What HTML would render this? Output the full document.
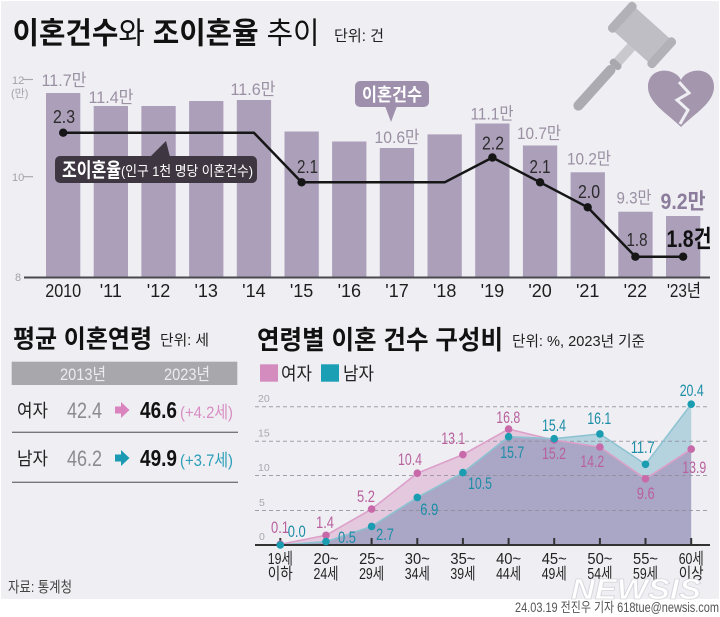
<!DOCTYPE html>
<html>
<head>
<meta charset="utf-8">
<style>
  html,body{margin:0;padding:0;background:#fff;}
  svg{display:block;}
  text{font-family:"Liberation Sans","Noto Sans CJK KR",sans-serif;}
</style>
</head>
<body>
<svg width="720" height="617" viewBox="0 0 720 617" xmlns="http://www.w3.org/2000/svg">
  <defs>
    <clipPath id="fclip">
      <polygon points="280.3,545 280.3,544.3 326,535.3 371.6,509.1 417.3,473.2 462.9,454.6 508.6,429.1 554.2,440.1 599.9,447 645.5,478.8 691.2,449.1 691.2,545"/>
    </clipPath>
  </defs>
  <rect width="720" height="617" fill="#ffffff"/>
  <rect x="1" y="1" width="718" height="598" fill="#efeef3"/>

  <!-- Title -->
  <text x="12.5" y="43.5" font-size="30" fill="#111" textLength="307" lengthAdjust="spacingAndGlyphs"><tspan font-weight="700">이혼건수</tspan><tspan font-weight="400">와 </tspan><tspan font-weight="700">조이혼율</tspan><tspan font-weight="400"> 추이</tspan></text>
  <text x="334" y="41" font-size="15.5" fill="#222" textLength="50" lengthAdjust="spacingAndGlyphs">단위: 건</text>

  <!-- Gavel -->
  <g transform="translate(642,35) rotate(42)">
    <rect x="-5" y="14" width="10" height="24" fill="#c9c8cd"/>
    <rect x="-6.5" y="36" width="13" height="7" rx="3" fill="#a9a8ae"/>
    <rect x="-5" y="42" width="10" height="58" rx="5" fill="#acabb1"/>
    <rect x="-23" y="-16" width="46" height="32" fill="#bfbec4"/>
    <rect x="-31" y="-19" width="9" height="38" rx="4" fill="#b2b1b7"/>
    <rect x="22" y="-19" width="9" height="38" rx="4" fill="#b2b1b7"/>
  </g>
  <!-- Broken heart -->
  <path d="M681,80 C675,67 648,66 648,87 C648,103 668,114 681,127 C694,114 714,103 714,87 C714,66 687,67 681,80 Z" fill="#a396ad"/>
  <polyline points="679,82 689,93 677,100 688,110 680,124" fill="none" stroke="#efeef3" stroke-width="3" stroke-linejoin="miter"/>

  <!-- Top chart y axis labels -->
  <text x="12" y="84" font-size="11" fill="#a3a3a8">12</text>
  <line x1="23" y1="79.5" x2="33" y2="79.5" stroke="#a8a8ad" stroke-width="1.2"/>
  <text x="11" y="97" font-size="11" fill="#a3a3a8">(만)</text>
  <text x="12" y="181" font-size="11" fill="#a3a3a8">10</text>
  <line x1="23" y1="176.7" x2="33" y2="176.7" stroke="#a8a8ad" stroke-width="1.2"/>
  <text x="15" y="281" font-size="11" fill="#a3a3a8">8</text>

  <!-- Bars -->
  <g fill="#ab9fba">
    <rect x="46.0" y="93" width="34.3" height="184.5"/>
    <rect x="93.7" y="106" width="34.3" height="171.5"/>
    <rect x="141.4" y="106" width="34.3" height="171.5"/>
    <rect x="189.1" y="101" width="34.3" height="176.5"/>
    <rect x="236.8" y="100" width="34.3" height="177.5"/>
    <rect x="284.5" y="131.5" width="34.3" height="146"/>
    <rect x="332.1" y="141.5" width="34.3" height="136"/>
    <rect x="379.8" y="148" width="34.3" height="129.5"/>
    <rect x="427.5" y="134.4" width="34.3" height="143.1"/>
    <rect x="475.2" y="123.5" width="34.3" height="154"/>
    <rect x="522.9" y="145.5" width="34.3" height="132"/>
    <rect x="570.6" y="172.3" width="34.3" height="105.2"/>
    <rect x="618.3" y="211.7" width="34.3" height="65.8"/>
    <rect x="666.0" y="216" width="34.3" height="61.5"/>
  </g>
  <line x1="24" y1="277.5" x2="710" y2="277.5" stroke="#4a4a4e" stroke-width="2"/>

  <!-- Value labels (counts) -->
  <g font-size="17" fill="#9a90a3" text-anchor="middle" lengthAdjust="spacingAndGlyphs">
    <text x="64" y="86" textLength="45" lengthAdjust="spacingAndGlyphs">11.7만</text>
    <text x="111" y="103" textLength="45" lengthAdjust="spacingAndGlyphs">11.4만</text>
    <text x="253" y="95" textLength="45" lengthAdjust="spacingAndGlyphs">11.6만</text>
    <text x="397" y="143" textLength="45" lengthAdjust="spacingAndGlyphs">10.6만</text>
    <text x="492" y="119.5" textLength="43" lengthAdjust="spacingAndGlyphs">11.1만</text>
    <text x="539" y="139" textLength="44" lengthAdjust="spacingAndGlyphs">10.7만</text>
    <text x="589" y="164.5" textLength="44" lengthAdjust="spacingAndGlyphs">10.2만</text>
    <text x="634" y="203.5" textLength="35" lengthAdjust="spacingAndGlyphs">9.3만</text>
  </g>
  <text x="683" y="209" font-size="22" font-weight="700" fill="#8b7d9b" text-anchor="middle" textLength="45" lengthAdjust="spacingAndGlyphs">9.2만</text>

  <!-- Rate line -->
  <polyline points="63.2,132.7 253.9,132.7 301.6,182.3 444.7,182.3 492.4,157.5 540.1,182.3 587.7,207.3 635.4,256.7 683.1,256.7" fill="none" stroke="#161616" stroke-width="2.5" stroke-linejoin="round"/>
  <g fill="#161616">
    <circle cx="63.2" cy="132.7" r="4.2"/>
    <circle cx="301.6" cy="182.3" r="4.2"/>
    <circle cx="492.4" cy="157.5" r="4.2"/>
    <circle cx="540.1" cy="182.3" r="4.2"/>
    <circle cx="587.7" cy="207.3" r="4.2"/>
    <circle cx="635.4" cy="256.7" r="4.2"/>
    <circle cx="683.1" cy="256.7" r="4.2"/>
  </g>
  <g font-size="18" fill="#2b2b2b" text-anchor="middle">
    <text x="64" y="123" textLength="22" lengthAdjust="spacingAndGlyphs">2.3</text>
    <text x="307.5" y="173" textLength="21" lengthAdjust="spacingAndGlyphs">2.1</text>
    <text x="493" y="149.5" textLength="22" lengthAdjust="spacingAndGlyphs">2.2</text>
    <text x="540" y="173" textLength="21" lengthAdjust="spacingAndGlyphs">2.1</text>
    <text x="589" y="198" textLength="22" lengthAdjust="spacingAndGlyphs">2.0</text>
    <text x="637" y="246" textLength="21" lengthAdjust="spacingAndGlyphs">1.8</text>
  </g>
  <text x="689" y="247" font-size="24" font-weight="700" fill="#111" text-anchor="middle" textLength="45" lengthAdjust="spacingAndGlyphs">1.8건</text>

  <!-- Annotation boxes -->
  <polygon points="150,157 170,157 166,141" fill="#3e3641"/>
  <rect x="55" y="156" width="202" height="27" rx="5" fill="#3e3641"/>
  <text x="62" y="177" font-size="20" font-weight="700" fill="#ffffff" textLength="59" lengthAdjust="spacingAndGlyphs">조이혼율</text>
  <text x="121" y="176" font-size="14" fill="#ffffff" textLength="132" lengthAdjust="spacingAndGlyphs">(인구 1천 명당 이혼건수)</text>

  <polygon points="385,106 397,106 391,122" fill="#9e90ac"/>
  <rect x="355" y="81" width="74" height="26" rx="5" fill="#9e90ac"/>
  <text x="392" y="101" font-size="18" font-weight="700" fill="#ffffff" text-anchor="middle" textLength="60" lengthAdjust="spacingAndGlyphs">이혼건수</text>

  <!-- Year labels -->
  <g font-size="18" fill="#1e1e1e" text-anchor="middle">
    <text x="63.2" y="297" textLength="36" lengthAdjust="spacingAndGlyphs">2010</text>
    <text x="110.8" y="297">'11</text>
    <text x="158.5" y="297">'12</text>
    <text x="206.2" y="297">'13</text>
    <text x="253.9" y="297">'14</text>
    <text x="301.6" y="297">'15</text>
    <text x="349.3" y="297">'16</text>
    <text x="397" y="297">'17</text>
    <text x="444.7" y="297">'18</text>
    <text x="492.4" y="297">'19</text>
    <text x="540.1" y="297">'20</text>
    <text x="587.7" y="297">'21</text>
    <text x="635.4" y="297">'22</text>
    <text x="684" y="297" textLength="34" lengthAdjust="spacingAndGlyphs">'23년</text>
  </g>

  <!-- Bottom-left: average age -->
  <text x="13" y="347.5" font-size="25" font-weight="700" fill="#111" textLength="139" lengthAdjust="spacingAndGlyphs">평균 이혼연령</text>
  <text x="160" y="345" font-size="15" fill="#222" textLength="49" lengthAdjust="spacingAndGlyphs">단위: 세</text>
  <rect x="11.7" y="361.7" width="225.6" height="23.3" fill="#a8a7ac"/>
  <text x="83" y="380" font-size="17" fill="#ececef" text-anchor="middle" textLength="46" lengthAdjust="spacingAndGlyphs">2013년</text>
  <text x="187" y="380" font-size="17" fill="#ececef" text-anchor="middle" textLength="46" lengthAdjust="spacingAndGlyphs">2023년</text>

  <text x="17" y="417" font-size="18" fill="#222" textLength="31" lengthAdjust="spacingAndGlyphs">여자</text>
  <text x="67" y="418" font-size="22" fill="#8b8a8f" textLength="35" lengthAdjust="spacingAndGlyphs">42.4</text>
  <polygon points="115,406.5 121,406.5 121,402 129.5,410 121,418 121,413.5 115,413.5" fill="#d984be"/>
  <text x="140" y="418" font-size="23" font-weight="700" fill="#111" textLength="37" lengthAdjust="spacingAndGlyphs">46.6</text>
  <text x="180" y="418" font-size="17" fill="#d88ec2" textLength="53" lengthAdjust="spacingAndGlyphs">(+4.2세)</text>
  <line x1="12" y1="432.3" x2="238" y2="432.3" stroke="#77767b" stroke-width="1.3"/>

  <text x="17" y="465" font-size="18" fill="#222" textLength="31" lengthAdjust="spacingAndGlyphs">남자</text>
  <text x="67" y="466" font-size="22" fill="#8b8a8f" textLength="35" lengthAdjust="spacingAndGlyphs">46.2</text>
  <polygon points="115,454.5 121,454.5 121,450 129.5,458 121,466 121,461.5 115,461.5" fill="#1a9bb3"/>
  <text x="140" y="466" font-size="23" font-weight="700" fill="#111" textLength="37" lengthAdjust="spacingAndGlyphs">49.9</text>
  <text x="180" y="466" font-size="17" fill="#2a9fb8" textLength="53" lengthAdjust="spacingAndGlyphs">(+3.7세)</text>
  <line x1="12" y1="482.3" x2="238" y2="482.3" stroke="#77767b" stroke-width="1.3"/>

  <text x="8" y="592" font-size="15" fill="#444" textLength="64" lengthAdjust="spacingAndGlyphs">자료: 통계청</text>

  <!-- Bottom-right: age distribution -->
  <text x="257" y="349" font-size="26" font-weight="700" fill="#111" textLength="246" lengthAdjust="spacingAndGlyphs">연령별 이혼 건수 구성비</text>
  <text x="512" y="346" font-size="15" fill="#222" textLength="133" lengthAdjust="spacingAndGlyphs">단위: %, 2023년 기준</text>

  <rect x="260" y="364.3" width="18" height="17.4" fill="#d48cbf"/>
  <text x="281" y="380" font-size="18" fill="#222" textLength="31" lengthAdjust="spacingAndGlyphs">여자</text>
  <rect x="321" y="364.3" width="18" height="17.4" fill="#1a9fb5"/>
  <text x="343" y="380" font-size="18" fill="#222" textLength="31" lengthAdjust="spacingAndGlyphs">남자</text>

  <!-- areas -->
  <polygon points="280.3,545 280.3,544.3 326,535.3 371.6,509.1 417.3,473.2 462.9,454.6 508.6,429.1 554.2,440.1 599.9,447 645.5,478.8 691.2,449.1 691.2,545" fill="#e4c8de"/>
  <polygon points="280.3,545 280.3,545 326,541.6 371.6,526.4 417.3,497.4 462.9,472.6 508.6,436.7 554.2,438.7 599.9,433.9 645.5,464.3 691.2,404.2 691.2,545" fill="#b5d3df"/>
  <polygon clip-path="url(#fclip)" points="280.3,545 280.3,545 326,541.6 371.6,526.4 417.3,497.4 462.9,472.6 508.6,436.7 554.2,438.7 599.9,433.9 645.5,464.3 691.2,404.2 691.2,545" fill="#a9a6c6"/>

  <!-- grid -->
  <g stroke="#8d8c98" stroke-width="1" stroke-dasharray="4,3" opacity="0.8">
    <line x1="255" y1="406.7" x2="710" y2="406.7"/>
    <line x1="255" y1="441.2" x2="710" y2="441.2"/>
    <line x1="255" y1="475.5" x2="710" y2="475.5"/>
    <line x1="255" y1="510.5" x2="710" y2="510.5"/>
  </g>
  <g font-size="10.5" fill="#a8a8ae">
    <text x="258" y="402">20</text>
    <text x="258" y="436.5">15</text>
    <text x="258" y="471">10</text>
    <text x="259" y="506">5</text>
    <text x="259" y="540">0</text>
  </g>

  <!-- lines -->
  <polyline points="280.3,544.3 326,535.3 371.6,509.1 417.3,473.2 462.9,454.6 508.6,429.1 554.2,440.1 599.9,447 645.5,478.8 691.2,449.1" fill="none" stroke="#dca0ca" stroke-width="1.6"/>
  <polyline points="280.3,545 326,541.6 371.6,526.4 417.3,497.4 462.9,472.6 508.6,436.7 554.2,438.7 599.9,433.9 645.5,464.3 691.2,404.2" fill="none" stroke="#8ec3d2" stroke-width="1.6"/>

  <!-- axis -->
  <line x1="255" y1="545" x2="710" y2="545" stroke="#333" stroke-width="2"/>
  <g stroke="#333" stroke-width="2">
    <line x1="280.3" y1="538" x2="280.3" y2="545"/>
    <line x1="326" y1="538" x2="326" y2="545"/>
    <line x1="371.6" y1="538" x2="371.6" y2="545"/>
    <line x1="417.3" y1="538" x2="417.3" y2="545"/>
    <line x1="462.9" y1="538" x2="462.9" y2="545"/>
    <line x1="508.6" y1="538" x2="508.6" y2="545"/>
    <line x1="554.2" y1="538" x2="554.2" y2="545"/>
    <line x1="599.9" y1="538" x2="599.9" y2="545"/>
    <line x1="645.5" y1="538" x2="645.5" y2="545"/>
    <line x1="691.2" y1="538" x2="691.2" y2="545"/>
  </g>

  <!-- dots -->
  <g fill="#c86aa9">
    <circle cx="280.3" cy="544.3" r="3.8"/>
    <circle cx="326" cy="535.3" r="3.8"/>
    <circle cx="371.6" cy="509.1" r="3.8"/>
    <circle cx="417.3" cy="473.2" r="3.8"/>
    <circle cx="462.9" cy="454.6" r="3.8"/>
    <circle cx="508.6" cy="429.1" r="3.8"/>
    <circle cx="554.2" cy="440.1" r="3.8"/>
    <circle cx="599.9" cy="447" r="3.8"/>
    <circle cx="645.5" cy="478.8" r="3.8"/>
    <circle cx="691.2" cy="449.1" r="3.8"/>
  </g>
  <g fill="#1a9cb1">
    <circle cx="280.3" cy="545" r="3.8"/>
    <circle cx="326" cy="541.6" r="3.8"/>
    <circle cx="371.6" cy="526.4" r="3.8"/>
    <circle cx="417.3" cy="497.4" r="3.8"/>
    <circle cx="462.9" cy="472.6" r="3.8"/>
    <circle cx="508.6" cy="436.7" r="3.8"/>
    <circle cx="554.2" cy="438.7" r="3.8"/>
    <circle cx="599.9" cy="433.9" r="3.8"/>
    <circle cx="645.5" cy="464.3" r="3.8"/>
    <circle cx="691.2" cy="404.2" r="3.8"/>
  </g>

  <!-- value labels -->
  <g font-size="17" fill="#b8619e" text-anchor="middle">
    <text x="280" y="533" textLength="18" lengthAdjust="spacingAndGlyphs">0.1</text>
    <text x="325" y="528" textLength="18" lengthAdjust="spacingAndGlyphs">1.4</text>
    <text x="366" y="502" textLength="18" lengthAdjust="spacingAndGlyphs">5.2</text>
    <text x="410" y="465" textLength="24" lengthAdjust="spacingAndGlyphs">10.4</text>
    <text x="453.3" y="444" textLength="24" lengthAdjust="spacingAndGlyphs">13.1</text>
    <text x="508.3" y="423" textLength="24" lengthAdjust="spacingAndGlyphs">16.8</text>
    <text x="554" y="459" textLength="24" lengthAdjust="spacingAndGlyphs">15.2</text>
    <text x="592.3" y="467" textLength="24" lengthAdjust="spacingAndGlyphs">14.2</text>
    <text x="645.7" y="499" textLength="18" lengthAdjust="spacingAndGlyphs">9.6</text>
    <text x="694.3" y="473" textLength="24" lengthAdjust="spacingAndGlyphs">13.9</text>
  </g>
  <g font-size="17" fill="#1b8da5" text-anchor="middle">
    <text x="296.7" y="537" textLength="18" lengthAdjust="spacingAndGlyphs">0.0</text>
    <text x="347" y="543" textLength="18" lengthAdjust="spacingAndGlyphs">0.5</text>
    <text x="385" y="540" textLength="18" lengthAdjust="spacingAndGlyphs">2.7</text>
    <text x="429.3" y="515" textLength="18" lengthAdjust="spacingAndGlyphs">6.9</text>
    <text x="480" y="489" textLength="24" lengthAdjust="spacingAndGlyphs">10.5</text>
    <text x="512.3" y="458" textLength="24" lengthAdjust="spacingAndGlyphs">15.7</text>
    <text x="554" y="431" textLength="24" lengthAdjust="spacingAndGlyphs">15.4</text>
    <text x="599.3" y="424" textLength="24" lengthAdjust="spacingAndGlyphs">16.1</text>
    <text x="642.7" y="453" textLength="24" lengthAdjust="spacingAndGlyphs">11.7</text>
    <text x="691.7" y="396" textLength="24" lengthAdjust="spacingAndGlyphs">20.4</text>
  </g>

  <!-- x labels -->
  <g font-size="16" fill="#222" text-anchor="middle">
    <text x="280.3" y="564" textLength="25" lengthAdjust="spacingAndGlyphs">19세</text>
    <text x="280.3" y="579" textLength="25" lengthAdjust="spacingAndGlyphs">이하</text>
    <text x="326" y="564" textLength="25" lengthAdjust="spacingAndGlyphs">20~</text>
    <text x="326" y="579" textLength="25" lengthAdjust="spacingAndGlyphs">24세</text>
    <text x="371.6" y="564" textLength="25" lengthAdjust="spacingAndGlyphs">25~</text>
    <text x="371.6" y="579" textLength="25" lengthAdjust="spacingAndGlyphs">29세</text>
    <text x="417.3" y="564" textLength="25" lengthAdjust="spacingAndGlyphs">30~</text>
    <text x="417.3" y="579" textLength="25" lengthAdjust="spacingAndGlyphs">34세</text>
    <text x="462.9" y="564" textLength="25" lengthAdjust="spacingAndGlyphs">35~</text>
    <text x="462.9" y="579" textLength="25" lengthAdjust="spacingAndGlyphs">39세</text>
    <text x="508.6" y="564" textLength="25" lengthAdjust="spacingAndGlyphs">40~</text>
    <text x="508.6" y="579" textLength="25" lengthAdjust="spacingAndGlyphs">44세</text>
    <text x="554.2" y="564" textLength="25" lengthAdjust="spacingAndGlyphs">45~</text>
    <text x="554.2" y="579" textLength="25" lengthAdjust="spacingAndGlyphs">49세</text>
    <text x="599.9" y="564" textLength="25" lengthAdjust="spacingAndGlyphs">50~</text>
    <text x="599.9" y="579" textLength="25" lengthAdjust="spacingAndGlyphs">54세</text>
    <text x="645.5" y="564" textLength="25" lengthAdjust="spacingAndGlyphs">55~</text>
    <text x="645.5" y="579" textLength="25" lengthAdjust="spacingAndGlyphs">59세</text>
    <text x="691.2" y="564" textLength="25" lengthAdjust="spacingAndGlyphs">60세</text>
    <text x="691.2" y="579" textLength="25" lengthAdjust="spacingAndGlyphs">이상</text>
  </g>

  <!-- watermark -->
  <text x="571" y="599" font-size="29" font-weight="700" font-style="italic" fill="#ffffff" stroke="#d6d5dc" stroke-width="0.8" textLength="130" lengthAdjust="spacingAndGlyphs">NEWSIS</text>

  <!-- footer -->
  <text x="515" y="612" font-size="13.5" fill="#555" textLength="204" lengthAdjust="spacingAndGlyphs">24.03.19 전진우 기자 618tue@newsis.com</text>
</svg>
</body>
</html>
